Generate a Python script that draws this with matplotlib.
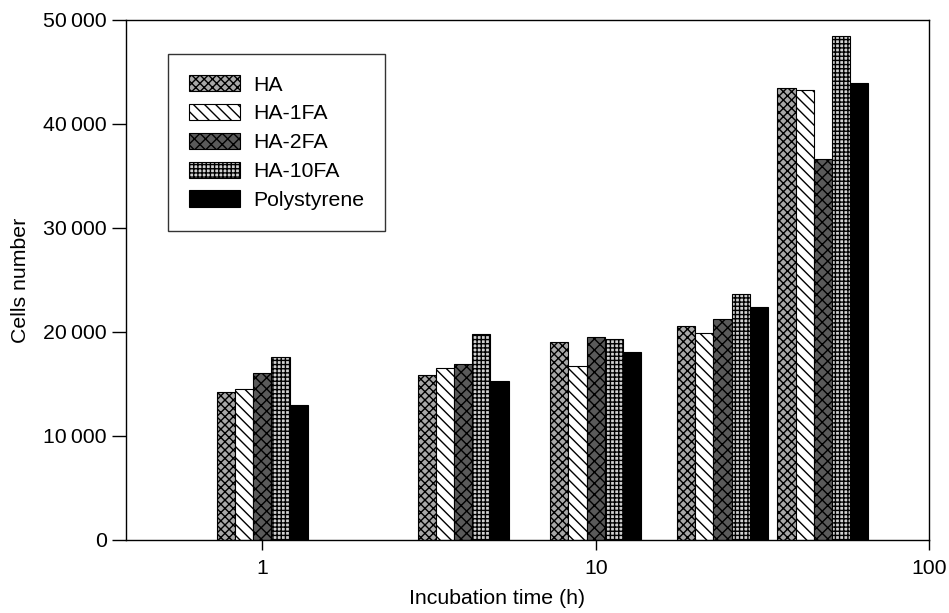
import matplotlib
matplotlib.use("Agg")
import matplotlib.pyplot as plt
import numpy as np

# ─── Data ────────────────────────────────────────────────────────────────────
times = [1, 4, 10, 24, 48]                      # incubation time (h)
series = ["HA", "HA-1FA", "HA-2FA", "HA-10FA", "Polystyrene"]
ha = [14250, 15850, 19050, 20600, 43450]
ha_1fa = [14550, 16550, 16750, 19950, 43250]
ha_2fa = [16100, 16900, 19500, 21250, 36600]
ha_10fa = [17550, 19800, 19300, 23650, 48450]
polystyrene = [12950, 15300, 18100, 22450, 43900]
y_ticks = [0, 10000, 20000, 30000, 40000, 50000]
x_ticks = [1, 10, 100]

# ─── Style ───────────────────────────────────────────────────────────────────
plt.rcParams.update({
    "font.family": ["Liberation Sans", "DejaVu Sans"],
    "font.size": 15.3,
    "hatch.linewidth": 1.0,
    "axes.linewidth": 1.0,
})

STYLES = [
    dict(facecolor="#a8a8a8", hatch="xxxx", edgecolor="black"),
    dict(facecolor="white", hatch="\\\\\\", edgecolor="black"),
    dict(facecolor="#5a5a5a", hatch="xxx", edgecolor="black"),
    dict(facecolor="#d0d0d0", hatch="++++", edgecolor="black"),
    dict(facecolor="black", hatch=None, edgecolor="black"),
]

fig = plt.figure(figsize=(9.49, 6.13), dpi=100)
ax = fig.add_axes([0.1328, 0.1191, 0.8462, 0.8483])
ax.set_xscale("log")

# bar widths in decades (constant pixel width on log axis)
w = 0.0546
values = [ha, ha_1fa, ha_2fa, ha_10fa, polystyrene]
for k, (name, vals, st) in enumerate(zip(series, values, STYLES)):
    t = np.array(times, dtype=float)
    left = t * 10 ** (-2.5 * w + k * w)
    width = left * (10 ** w - 1)
    ax.bar(left, vals, width=width, align="edge", label=name,
           linewidth=0.8, **st)

ax.set_xlim(0.39, 100)
ax.set_ylim(0, 50000)
ax.set_xticks(x_ticks)
ax.set_xticklabels([str(v) for v in x_ticks])
ax.xaxis.set_minor_locator(matplotlib.ticker.NullLocator())
ax.set_yticks(y_ticks)
ax.set_yticklabels([f"{v:,}".replace(",", "\u2009") for v in y_ticks])
ax.tick_params(axis="y", direction="out", length=10, width=1, pad=4)
ax.tick_params(axis="x", direction="out", length=7, width=1, pad=7)

ax.set_ylabel("Cells number")
ax.yaxis.set_label_coords(-0.12, 0.5)
ax.set_xlabel("Incubation time (h)")
ax.xaxis.set_label_coords(0.462, -0.094)

leg = ax.legend(loc="upper left", bbox_to_anchor=(0.052, 0.935),
                borderaxespad=0, fancybox=False, framealpha=1,
                edgecolor="#333333", handlelength=2.4, handleheight=0.8,
                handletextpad=0.6, borderpad=1.0, labelspacing=0.44)
leg.get_frame().set_linewidth(1.0)

plt.savefig("out.png", dpi=100, facecolor="white")
plt.close()
